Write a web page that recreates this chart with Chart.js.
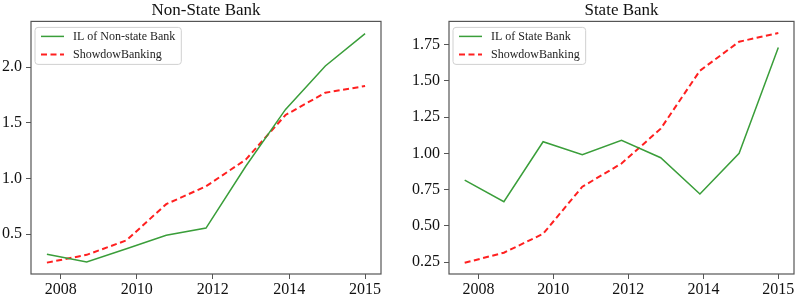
<!DOCTYPE html>
<html>
<head>
<meta charset="utf-8">
<script src="https://cdn.jsdelivr.net/npm/chart.js@4"></script>
<style>
  body { margin: 0; background: #fff; }
  .box { position: absolute; top: 0; width: 400px; height: 296px; }
</style>
</head>
<body>
<div class="box" style="left:0"><canvas id="myChart" width="400" height="296"></canvas></div>
<div class="box" style="left:400px"><canvas id="myChart2" width="400" height="296"></canvas></div>
<script>
// 데이터
const periods = [0, 1, 2, 3, 4, 5, 6, 7, 8];
const ilNonState = [0.32, 0.25, 0.37, 0.49, 0.555, 1.11, 1.62, 2.01, 2.30];
const ilState = [0.815, 0.667, 1.08, 0.99, 1.09, 0.97, 0.72, 1.0, 1.73];
const shadowBanking = [0.245, 0.315, 0.445, 0.77, 0.93, 1.17, 1.57, 1.77, 1.83];
const xTickPos = [0.35, 2.26, 4.17, 6.09, 8.0];
const xTickLabels = ["2008", "2010", "2012", "2014", "2015"];
const yTicksLeft = [0.5, 1.0, 1.5, 2.0];
const yTicksRight = [0.25, 0.5, 0.75, 1.0, 1.25, 1.5, 1.75];

Chart.defaults.font.family = "'Liberation Serif', 'DejaVu Serif', serif";
Chart.defaults.color = "#111";

// 테두리 + 범례 그리기
const framePlugin = {
  id: "frame",
  afterDatasetsDraw(chart) {
    const a = chart.chartArea;
    const c = chart.ctx;
    c.save();
    c.strokeStyle = "#555";
    c.lineWidth = 1.2;
    c.strokeRect(a.left, a.top, a.right - a.left, a.bottom - a.top);

    // 범례
    c.font = "12px 'Liberation Serif'";
    const sets = chart.data.datasets;
    let w = 0;
    sets.forEach(function (d) { w = Math.max(w, c.measureText(d.label).width); });
    const x0 = a.left + 4, y0 = a.top + 6;
    const bw = w + 44, bh = 37;
    c.beginPath();
    c.roundRect(x0, y0, bw, bh, 3);
    c.fillStyle = "rgba(255,255,255,0.85)";
    c.fill();
    c.strokeStyle = "#d0d0d0";
    c.lineWidth = 1;
    c.stroke();
    sets.forEach(function (d, i) {
      const ly = y0 + 9 + i * 18;
      c.beginPath();
      c.strokeStyle = d.borderColor;
      c.lineWidth = d.borderWidth;
      c.setLineDash(d.borderDash || []);
      c.moveTo(x0 + 6, ly);
      c.lineTo(x0 + 29, ly);
      c.stroke();
      c.setLineDash([]);
      c.fillStyle = "#222";
      c.textBaseline = "middle";
      c.fillText(d.label, x0 + 38, ly);
    });
    c.restore();
  },
};

function makeChart(id, title, greenLabel, greenData, yMin, yMax, yTicks, yDigits, yWidth, padRight) {
  const ctx = document.getElementById(id).getContext("2d");
  return new Chart(ctx, {
    type: "line",
    data: {
      datasets: [
        {
          label: greenLabel,
          data: periods.map((p, i) => ({ x: p, y: greenData[i] })),
          borderColor: "#3a9e3a",
          borderWidth: 1.5,
          pointRadius: 0,
          tension: 0,
          fill: false,
        },
        {
          label: "ShowdowBanking",
          data: periods.map((p, i) => ({ x: p, y: shadowBanking[i] })),
          borderColor: "#ff2020",
          borderWidth: 2,
          borderDash: [6, 3.5],
          pointRadius: 0,
          tension: 0,
          fill: false,
        },
      ],
    },
    options: {
      responsive: false,
      animation: false,
      layout: { padding: { left: 0, right: padRight, top: 0, bottom: 0 } },
      scales: {
        x: {
          type: "linear",
          min: -0.4,
          max: 8.4,
          afterBuildTicks: (s) => { s.ticks = xTickPos.map((v) => ({ value: v })); },
          afterFit: (s) => { s.height = 22; },
          grid: { drawOnChartArea: false, drawTicks: true, tickLength: 5, color: "#555" },
          border: { display: false },
          ticks: {
            autoSkip: false,
            maxRotation: 0,
            padding: 1,
            font: { size: 16 },
            callback: (v, i) => xTickLabels[i],
          },
        },
        y: {
          type: "linear",
          min: yMin,
          max: yMax,
          afterBuildTicks: (s) => { s.ticks = yTicks.map((v) => ({ value: v })); },
          afterFit: (s) => { s.width = yWidth; },
          grid: { drawOnChartArea: false, drawTicks: true, tickLength: 5, color: "#555" },
          border: { display: false },
          ticks: {
            padding: 4,
            font: { size: 16 },
            callback: (v) => Number(v).toFixed(yDigits),
          },
        },
      },
      plugins: {
        legend: { display: false },
        tooltip: { enabled: false },
        title: {
          display: true,
          text: title,
          fullSize: false,
          color: "#111",
          font: { size: 17, weight: "normal" },
          padding: { top: 0, bottom: 1 },
        },
      },
    },
    plugins: [framePlugin],
  });
}

//차트1
const myChart = makeChart("myChart", "Non-State Bank", "IL of Non-state Bank", ilNonState, 0.143, 2.41, yTicksLeft, 1, 31, 19);
//차트2
const myChart2 = makeChart("myChart2", "State Bank", "IL of State Bank", ilState, 0.168, 1.91, yTicksRight, 2, 49, 6);
</script>
</body>
</html>
